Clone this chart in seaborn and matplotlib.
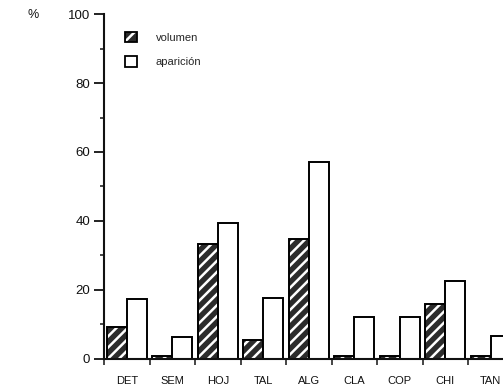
import matplotlib
matplotlib.use("Agg")
import matplotlib.pyplot as plt
from matplotlib.patches import Patch
from matplotlib.ticker import MultipleLocator, FixedLocator
import seaborn as sns
import pandas as pd

categories = ["DET", "SEM", "HOJ", "TAL", "ALG", "CLA", "COP", "CHI", "TAN"]
volumen = [9.3, 0.8, 33.3, 5.5, 34.8, 0.8, 0.8, 15.9, 0.8]
aparicion = [17.3, 6.5, 39.4, 17.6, 57.0, 12.1, 12.1, 22.7, 6.8]
series = ["volumen", "aparición"]
yticks = [0, 20, 40, 60, 80, 100]

sns.set_style("white")
plt.rcParams["font.family"] = ["Liberation Sans", "DejaVu Sans"]
plt.rcParams["hatch.linewidth"] = 1.8

df = pd.DataFrame({
    "cat": categories * 2,
    "serie": [series[0]] * len(categories) + [series[1]] * len(categories),
    "val": volumen + aparicion,
})

fig = plt.figure(figsize=(5.03, 3.87), dpi=100)
ax = fig.add_axes([0.207, 0.0724, 0.814, 0.8914])

sns.barplot(data=df, x="cat", y="val", hue="serie", order=categories,
            hue_order=series, palette=["#2b2b2b", "white"], width=0.88,
            gap=0, edgecolor="black", linewidth=1.4, saturation=1,
            legend=False, ax=ax)

n = len(categories)
# white diagonal stripes on the dark "volumen" bars
for p in ax.patches[:n]:
    p.set_hatch("///")
    p._hatch_color = (1, 1, 1, 1)

ax.set_xlim(-0.5, n - 0.5)
ax.set_ylim(0, 100)
ax.set_xlabel("")
ax.set_ylabel("")

for s in ["top", "right"]:
    ax.spines[s].set_visible(False)
for s in ["left", "bottom"]:
    ax.spines[s].set_linewidth(1.5)
    ax.spines[s].set_color("#111111")

ax.set_yticks(yticks)
ax.yaxis.set_minor_locator(MultipleLocator(10))
ax.tick_params(axis="y", which="major", direction="out", length=7, width=1.3,
               labelsize=9.5, pad=3, colors="#111111", left=True)
ax.tick_params(axis="y", which="minor", direction="out", length=3, width=1.2,
               left=True)

ax.set_xticks(range(n))
ax.set_xticklabels(categories)
ax.xaxis.set_minor_locator(FixedLocator([i - 0.5 for i in range(n + 1)]))
ax.tick_params(axis="x", which="major", length=0, labelsize=8, pad=12,
               colors="#111111")
ax.tick_params(axis="x", which="minor", direction="out", length=4, width=1.2,
               bottom=True)

handles = [Patch(facecolor="#2b2b2b", edgecolor="black", hatch="//",
                 linewidth=1.3),
           Patch(facecolor="white", edgecolor="black", linewidth=1.3)]
leg = ax.legend(handles, series, loc="upper left",
                bbox_to_anchor=(0.051, 0.948), frameon=False, fontsize=8,
                handlelength=1.08, handleheight=1.08, handletextpad=1.7,
                labelspacing=1.2, borderpad=0, borderaxespad=0)
leg.legend_handles[0]._hatch_color = (1, 1, 1, 1)

fig.text(0.066, 0.962, "%", fontsize=9, ha="center", va="center",
         color="#111111")

fig.savefig("out.png", dpi=100)
